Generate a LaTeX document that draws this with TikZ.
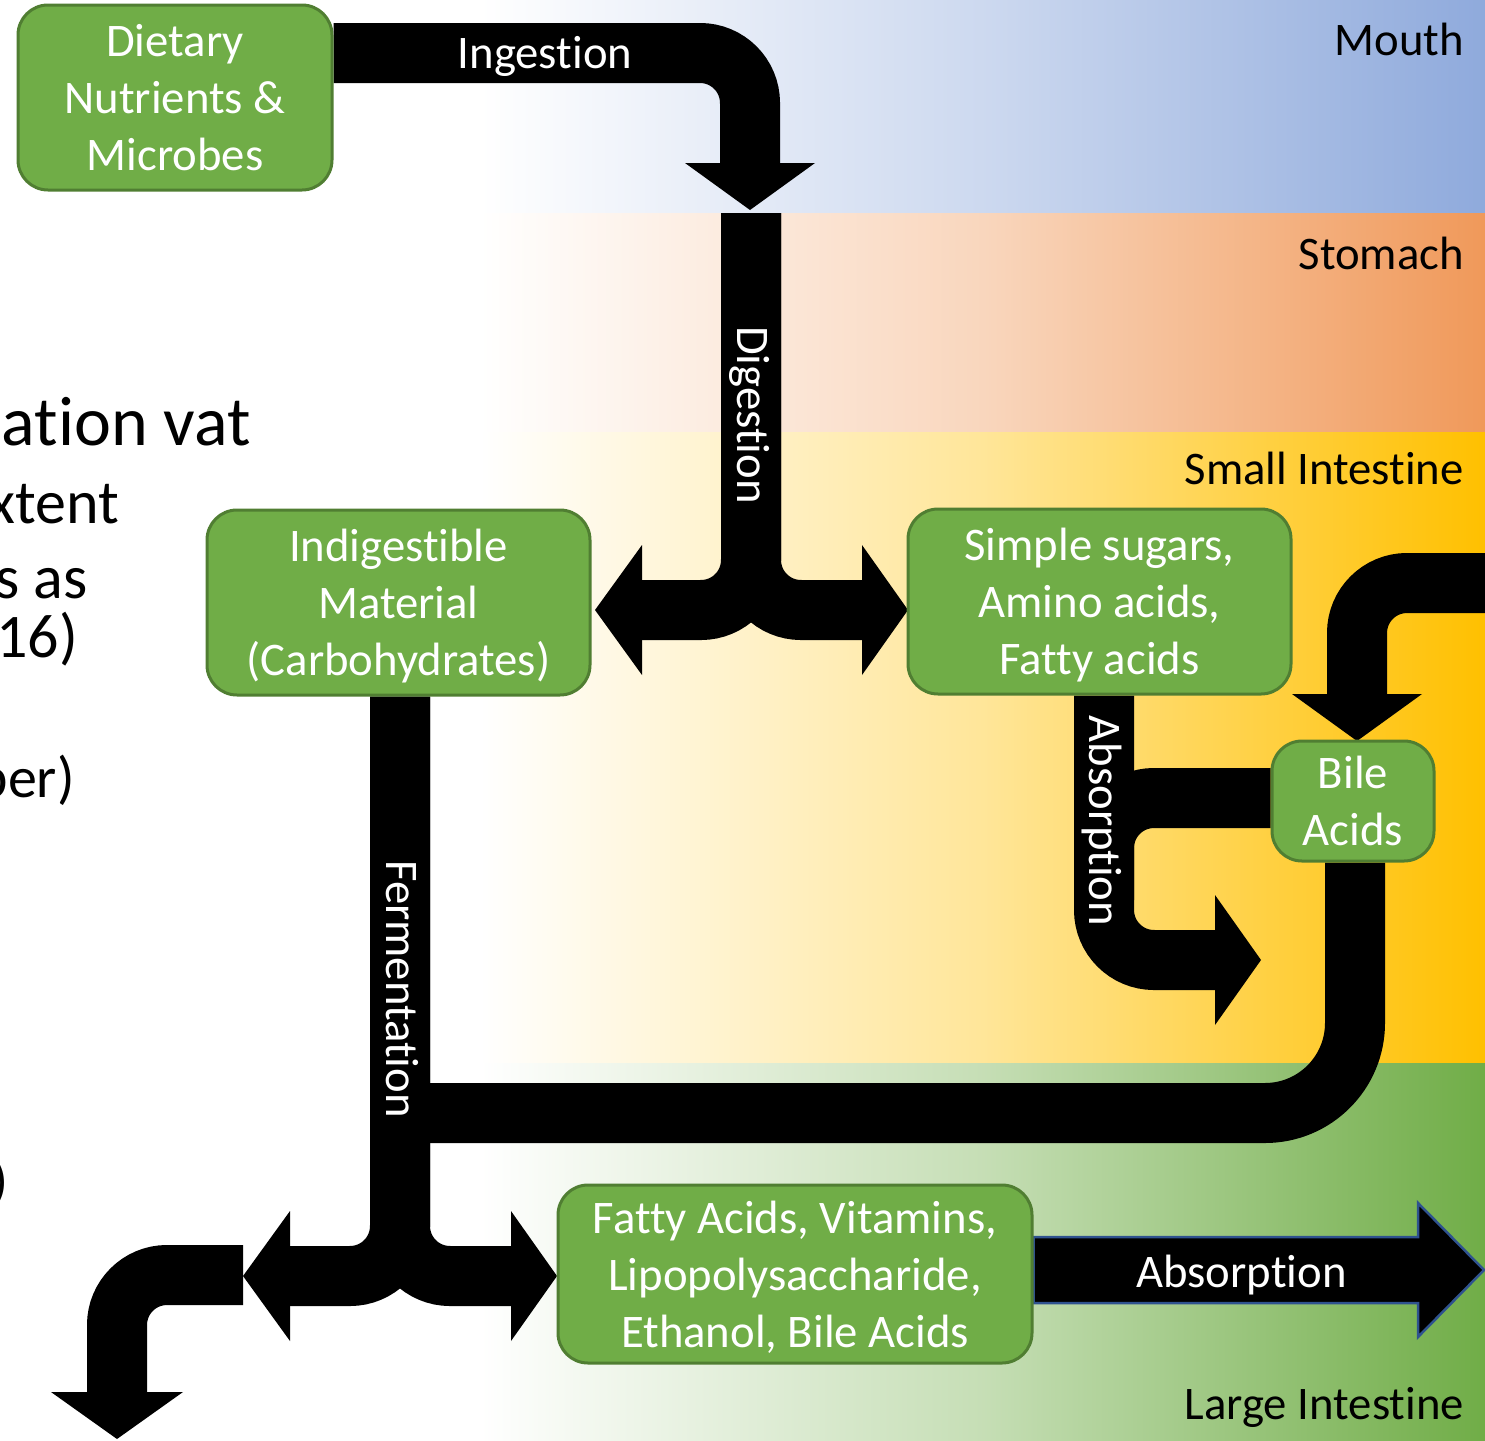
\documentclass[tikz,border=0pt]{standalone}
\usepackage{fontspec}
\setmainfont{Carlito}[Ligatures={NoCommon}]
\definecolor{mouthc}{HTML}{8FAADC}
\definecolor{stomc}{HTML}{F0995A}
\definecolor{sic}{HTML}{FFC000}
\definecolor{lic}{HTML}{70AD47}
\definecolor{gfill}{HTML}{70AD47}
\definecolor{gline}{HTML}{507E32}
\definecolor{aline}{HTML}{2F528F}
\newcommand\boxfnt{\fontsize{46.7}{57}\selectfont}
\pgfdeclarelayer{bg}
\pgfdeclarelayer{arr}
\pgfsetlayers{bg,arr,main}
\begin{document}
\begin{tikzpicture}[x=1pt,y=-1pt,
  gbox/.style={draw=gline, line width=3pt, fill=gfill, rounded corners=30pt, text=white, align=center, font=\boxfnt, inner sep=0pt, text depth=0pt},
  shaft/.style={draw=black, line width=60pt, rounded corners=50pt},
  wlabel/.style={text=white, font=\boxfnt, inner sep=0pt, anchor=base},
  blabel/.style={text=black, font=\boxfnt, inner sep=0pt, anchor=base east},
  frag/.style={text=black, inner sep=0pt, anchor=base east}]
\useasboundingbox (0,0) rectangle (1485,1440);
\clip (0,0) rectangle (1485,1440);

\begin{pgfonlayer}{bg}
  \fill[white] (0,0) rectangle (1485,1440);
  \shade[left color=white, right color=mouthc, middle color=mouthc!45!white] (480,0) rectangle (1485,213);
  \shade[left color=white, right color=stomc, middle color=stomc!40!white] (480,213) rectangle (1485,432);
  \shade[left color=white, right color=sic, middle color=sic!40!white] (480,432) rectangle (1485,1063);
  \shade[left color=white, right color=lic, middle color=lic!40!white] (480,1063) rectangle (1485,1440);
\end{pgfonlayer}

% boxes
\node[gbox, minimum width=314pt, minimum height=185pt] (diet) at (175,97.5) {Dietary\\Nutrients \&\\Microbes};
\node[gbox, minimum width=383pt, minimum height=185pt] (indig) at (398.5,602.5) {Indigestible\\Material\\(Carbohydrates)};
\node[gbox, minimum width=383pt, minimum height=185pt] (simple) at (1099.5,601.5) {Simple sugars,\\Amino acids,\\Fatty acids};
\node[gbox, minimum width=162pt, minimum height=120pt] (bile) at (1353,801) {Bile\\Acids};
\node[gbox, minimum width=474pt, minimum height=178pt] (five) at (795,1274) {Fatty Acids, Vitamins,\\Lipopolysaccharide,\\Ethanol, Bile Acids};

% connectors
\begin{pgfonlayer}{arr}
  % ingestion
  \coordinate (ingc) at (750,53);
  \coordinate (ingb) at (750,163);
  \draw[shaft] (diet.east |- ingc) -- (ingc) -- (ingb);
  \fill (685,163) -- (815,163) -- (750,210) -- cycle;
  % digestion
  \coordinate (dtop) at (751,213);
  \coordinate (dmid) at (751,610);
  \coordinate (dl) at (642,610);
  \coordinate (dr) at (862,610);
  \draw[shaft] (dtop) -- (dmid) -- (dl);
  \draw[shaft] (dtop) -- (dmid) -- (dr);
  \fill (642,545) -- (642,675) -- (595,610) -- cycle;
  \fill (862,545) -- (862,675) -- (908,610) -- cycle;
  % absorption (small intestine)
  \coordinate (amid) at (1104,960);
  \coordinate (aend) at (1215,960);
  \draw[shaft] (simple.south -| amid) -- (amid) -- (aend);
  \fill (1215,895) -- (1215,1025) -- (1261,960) -- cycle;
  % bile acids into absorption
  \coordinate (bbc) at (1104,798);
  \coordinate (bbe) at (1104,900);
  \draw[shaft] (bile.west |- bbc) -- (bbc) -- (bbe);
  % bile loop from right
  \coordinate (blin) at (1500,583);
  \coordinate (blc) at (1357,583);
  \coordinate (blb) at (1357,694);
  \draw[shaft] (blin) -- (blc) -- (blb);
  \fill (1292,694) -- (1422,694) -- (1357,741) -- cycle;
  % bile to large intestine
  \coordinate (bbot) at (1355,1113);
  \coordinate (fjoin) at (400,1113);
  \draw[shaft, rounded corners=90pt] (bile.south -| bbot) -- (bbot) -- (fjoin);
  % fermentation
  \coordinate (fmid) at (400,1276);
  \coordinate (fl) at (290,1276);
  \coordinate (fr) at (511,1276);
  \draw[shaft] (indig.south -| fmid) -- (fmid) -- (fl);
  \draw[shaft] (indig.south -| fmid) -- (fmid) -- (fr);
  \fill (290,1211) -- (290,1341) -- (243,1276) -- cycle;
  \fill (511,1211) -- (511,1341) -- (557,1276) -- cycle;
  % excretion bent arrow
  \coordinate (ex1) at (243,1275);
  \coordinate (exc) at (117,1275);
  \coordinate (exb) at (117,1392);
  \draw[shaft] (ex1) -- (exc) -- (exb);
  \fill (51,1392) -- (183,1392) -- (117,1439) -- cycle;
  % absorption (large intestine)
  \draw[fill=black, draw=aline, line width=2.5pt, line join=miter]
    (five.east |- 0,1237) -- (1418,1237) -- (1418,1203) -- (1484,1270) -- (1418,1337) -- (1418,1303) -- (five.east |- 0,1303) -- cycle;
\end{pgfonlayer}

% arrow labels
\node[wlabel] (ingt) at (545,68.5) {Ingestion};
\node[wlabel, rotate=-90] (digt) at (737,415) {Digestion};
\node[wlabel, rotate=-90] (fert) at (386,989) {Fermentation};
\node[wlabel, rotate=-90] (abst) at (1089,821) {Absorption};
\node[wlabel] (abs2) at (1241.5,1287) {Absorption};

% region labels
\node[blabel] (lm) at (1464,55) {Mouth};
\node[blabel] (ls) at (1464,269) {Stomach};
\node[blabel] (lsi) at (1464,484) {Small Intestine};
\node[blabel] (lli) at (1464,1419) {Large Intestine};

% cut-off slide text on the left (cut off in the reference as well)
\node[frag, font={\fontsize{70}{84}\selectfont}] (t1) at (251,445) {ation vat};
\node[frag, font={\fontsize{62}{74}\selectfont}] (t2) at (119,523) {xtent};
\node[frag, font={\fontsize{62}{74}\selectfont}] (t3) at (88,598) {s as};
\node[frag, font={\fontsize{62}{74}\selectfont}] (t4) at (78,657) {16)};
\node[frag, font={\fontsize{58}{70}\selectfont}] (t5) at (75,797) {ber)};
\node[frag, font={\fontsize{52}{62}\selectfont}] (t6) at (8,1198) {)};
\end{tikzpicture}
\end{document}
